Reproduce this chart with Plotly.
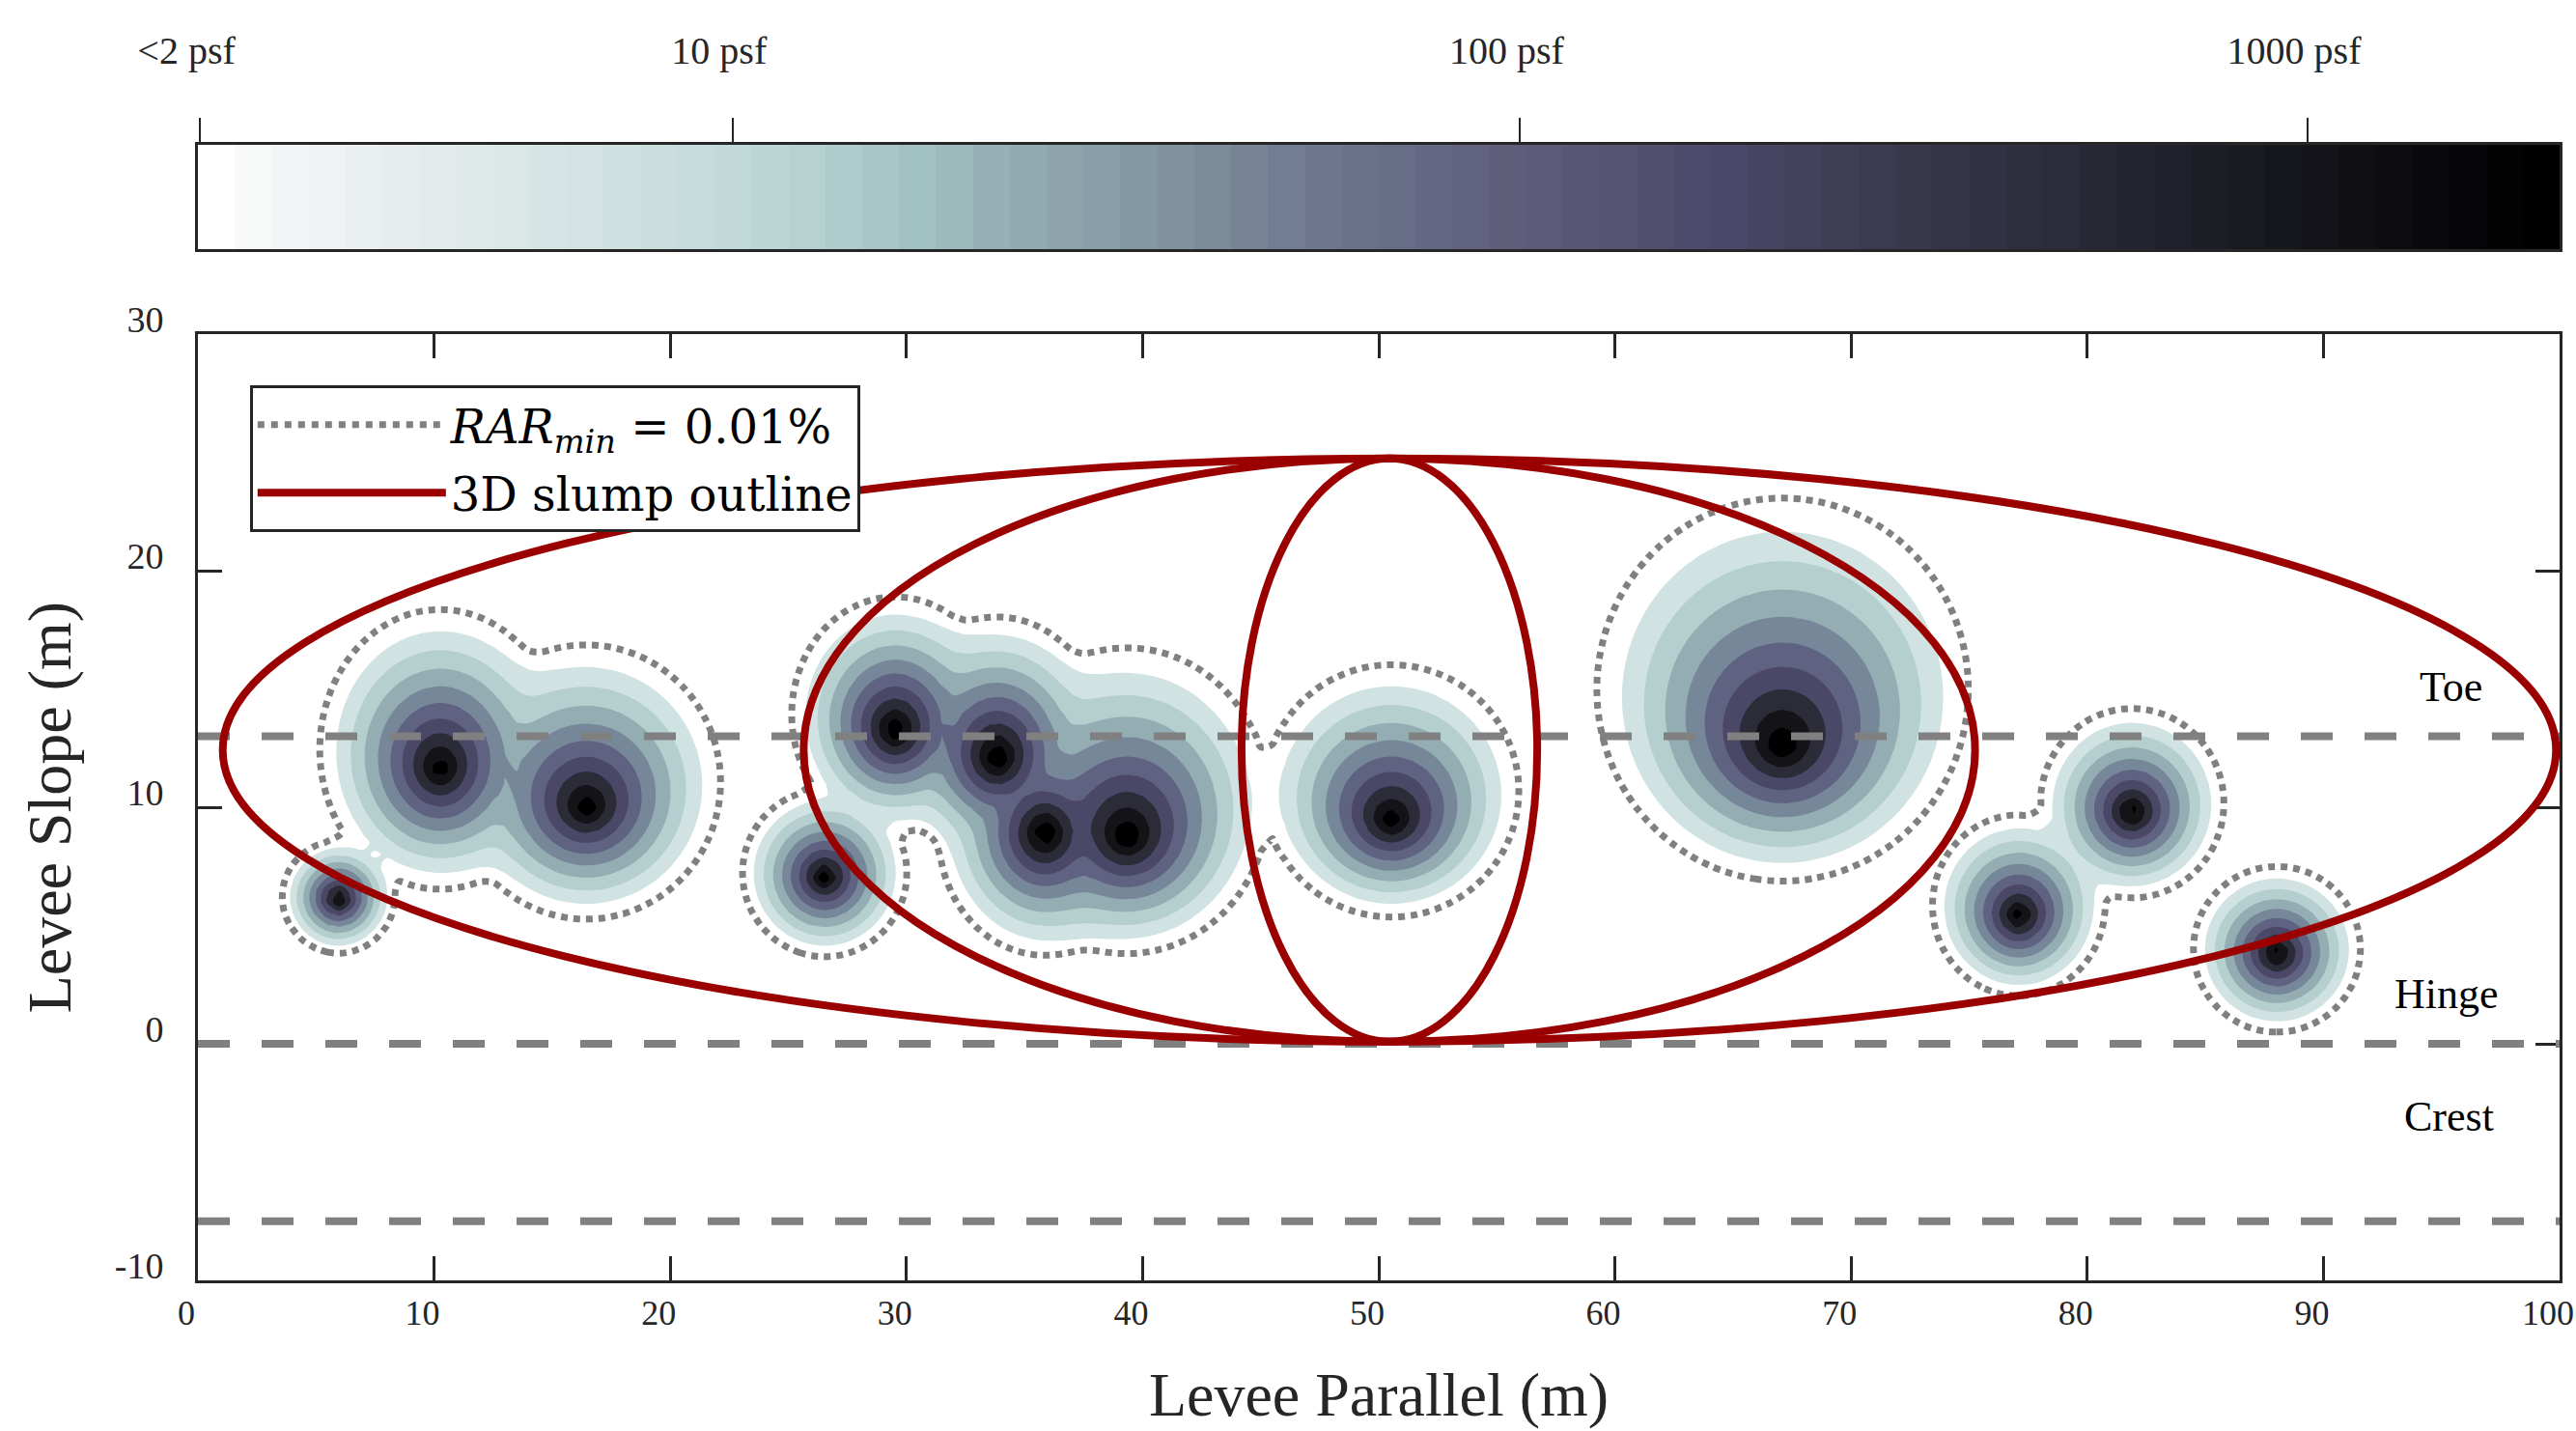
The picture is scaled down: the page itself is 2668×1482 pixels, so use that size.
import numpy as np
import plotly.graph_objects as go

# ---------------- colour bar (log10 of pressure, psf) ----------------
cbar_min_log = 0.321
cbar_max_log = 3.320
cbar_steps = 64
cbar_tick_vals = [0.3235, 1, 2, 3]
cbar_tick_text = ["<2 psf", "10 psf", "100 psf", "1000 psf"]

cmap_pos = [0.0, 0.03, 0.10, 0.20, 0.25, 0.30, 0.34, 0.42, 0.47, 0.55, 0.65, 0.72, 0.80, 0.88, 0.95, 1.0]
cmap_hex = ["#ffffff", "#f2f5f6", "#e2eaeb", "#c9dddd", "#b7d3d2", "#a3c2c2", "#94aeb4", "#7d8f9c",
            "#6f7890", "#5f5f7c", "#4a4868", "#3a394f", "#2a2a38", "#18181f", "#0a0a0d", "#000000"]

# ---------------- pressure blobs ----------------
blob_x = [5.95, 10.26, 16.45, 26.54, 29.53, 33.84, 35.86, 39.34, 50.54, 67.10, 77.10, 81.90, 88.03]
blob_y = [6.15, 11.64, 9.97, 7.05, 13.24, 12.06, 8.93, 8.72, 9.42, 12.55, 5.39, 9.77, 3.79]
blob_rx = [2.05, 4.4, 4.9, 3.0, 3.8, 3.9, 3.9, 5.2, 4.65, 6.8, 3.15, 3.35, 3.05]
blob_ry = [2.05, 5.1, 5.0, 3.05, 4.3, 4.5, 4.4, 5.6, 4.6, 7.0, 3.3, 3.45, 3.02]
blob_shift = [0.05, 0.7, 0.95, 0.15, 0.6, 0.7, -0.1, 1.35, 1.1, 2.1, 0.4, 0.35, 0.18]
blob_peak = [3.8, 3.8, 3.8, 3.8, 3.9, 3.95, 3.95, 3.9, 3.8, 3.85, 3.8, 3.8, 3.8]
edge_level = 2 / 3          # log10 level at the outer filled band edge
profile_exp = 0.75
fill_mix = 1.5              # power-mean exponent used to merge neighbouring blobs
rar_mix = 4.0
grid_step = 0.5

# contour bands
band_start = 2 / 3
band_size = 1 / 3
band_count = 9
band_colors = ["#d1e2e2", "#b5cfcf", "#94adb3", "#77879a", "#5f6280",
               "#4a4866", "#2c2b38", "#131318", "#000000"]
rar_level = 0.30           # RAR_min = 0.01 % outline

# ---------------- zones & slump outlines ----------------
zone_lines_y = [13, 0, -7.5]
zone_names = ["Toe", "Hinge", "Crest"]
zone_label_x = [95.4, 95.2, 95.3]
zone_label_y = [15.1, 2.1, -3.1]

slump_cx = 50.45
slump_cy = 12.42
slump_b = 12.33
slump_a = [49.4, 24.8, 6.26]

x_range = [0, 100]
y_range = [-10, 30]
x_ticks = list(range(0, 101, 10))
y_ticks = [-10, 0, 10, 20, 30]
y_tick_text = ["-10", "0", "10", "20", "30"]

FONT = "Liberation Serif"
LEG_FONT = "DejaVu Serif"
AX = "#262626"
GRAY = "#808080"
RED = "#9b0000"


def hex_to_rgb(h):
    h = h.lstrip("#")
    return np.array([int(h[i:i + 2], 16) for i in (0, 2, 4)], dtype=float)


def cmap(t):
    rgbs = np.array([hex_to_rgb(h) for h in cmap_hex])
    c = [np.interp(t, cmap_pos, rgbs[:, i]) for i in range(3)]
    return "rgb(%d,%d,%d)" % tuple(int(round(v)) for v in c)


# colour-bar steps
step_colors = [cmap(k / (cbar_steps - 1)) for k in range(cbar_steps)]
step_edges = np.linspace(cbar_min_log, cbar_max_log, cbar_steps + 1)
step_scale = [[k / (cbar_steps - 1), step_colors[k]] for k in range(cbar_steps)]

# field
gx = np.arange(x_range[0], x_range[1] + grid_step / 2, grid_step)
gy = np.arange(y_range[0], y_range[1] + grid_step / 2, grid_step)
X, Y = np.meshgrid(gx, gy)
logs = []
for cx, cy, rx, ry, sh, pk in zip(blob_x, blob_y, blob_rx, blob_ry, blob_shift, blob_peak):
    u = (X - cx) / rx
    v = (Y - cy) / ry
    h = sh / ry
    # normalised radius of rings whose centre moves up by `sh` per unit radius
    r = (-h * v + np.sqrt(h * h * v * v + (1 - h * h) * (u * u + v * v))) / (1 - h * h)
    r = np.maximum(r, 0)
    logs.append(pk - (pk - edge_level) * r ** profile_exp)
logs = np.array(logs)


def power_mean_log(lg, q):
    m = lg.max(axis=0)
    return m + np.log10(np.sum(10 ** (q * (lg - m)), axis=0)) / q


Z_fill = power_mean_log(logs, fill_mix)
Z_rar = power_mean_log(logs, rar_mix)

fill_scale = [[0, "rgba(255,255,255,0)"]] + [[(k + 1) / band_count, band_colors[k]] for k in range(band_count)]

fig = go.Figure()

fig.add_trace(go.Heatmap(
    x=step_edges, y=[0, 1], z=[list(range(cbar_steps))],
    colorscale=step_scale, zmin=0, zmax=cbar_steps - 1, showscale=False,
    xaxis="x2", yaxis="y2", hoverinfo="skip"))

fig.add_trace(go.Contour(
    x=gx, y=gy, z=Z_fill, autocontour=False,
    contours=dict(start=band_start, end=band_start + (band_count - 1) * band_size,
                  size=band_size, coloring="fill", showlines=False),
    line=dict(width=0), colorscale=fill_scale, showscale=False,
    hoverinfo="skip", showlegend=False))

fig.add_trace(go.Contour(
    x=gx, y=gy, z=Z_rar, autocontour=False,
    contours=dict(start=rar_level, end=rar_level, size=1, coloring="none"),
    line=dict(color=GRAY, width=7, dash="7px,6px"), showscale=False,
    hoverinfo="skip", showlegend=False))

# legend entries
fig.add_trace(go.Scatter(x=[None], y=[None], mode="lines", legendgroup="a",
                         line=dict(color=GRAY, width=7, dash="7px,7px"),
                         name="<i>RAR</i><sub><i>min</i></sub> = 0.01%"))
fig.add_trace(go.Scatter(x=[None], y=[None], mode="lines", legendgroup="b",
                         line=dict(color=RED, width=8),
                         name="3D slump outline"))

shapes = []
for yv in zone_lines_y:
    shapes.append(dict(type="line", xref="x", yref="y", x0=x_range[0], x1=x_range[1], y0=yv, y1=yv,
                       line=dict(color=GRAY, width=8, dash="33px,33px"), layer="above"))
for a in slump_a:
    shapes.append(dict(type="circle", xref="x", yref="y",
                       x0=slump_cx - a, x1=slump_cx + a, y0=slump_cy - slump_b, y1=slump_cy + slump_b,
                       line=dict(color=RED, width=8), layer="above"))

annotations = []
for name, xv, yv in zip(zone_names, zone_label_x, zone_label_y):
    annotations.append(dict(x=xv, y=yv, xref="x", yref="y", text=name, showarrow=False,
                            font=dict(family=FONT, size=44, color="#000000")))

tickfont = dict(family=FONT, size=38, color=AX)

fig.update_layout(
    width=2668, height=1482,
    margin=dict(l=205, r=17, t=100, b=156, autoexpand=False),
    paper_bgcolor="white", plot_bgcolor="white",
    shapes=shapes, annotations=annotations,
    showlegend=True,
    legend=dict(x=0.022, y=0.756, xanchor="left", yanchor="top",
                bgcolor="white", bordercolor=AX, borderwidth=3,
                font=dict(family=LEG_FONT, size=48, color="#000000"),
                itemwidth=195, tracegroupgap=5, traceorder="grouped"),
    xaxis=dict(domain=[0, 1], anchor="y", range=x_range, tickvals=x_ticks,
               ticks="inside", ticklen=25, tickwidth=3, tickcolor=AX,
               showline=True, linecolor=AX, linewidth=3, mirror="ticks",
               showgrid=False, zeroline=False, tickfont=dict(family=FONT, size=36, color=AX),
               ticklabelshift=-12, ticklabeloverflow="allow", automargin=False,
               title=dict(text="Levee Parallel (m)", font=dict(family=FONT, size=64, color=AX), standoff=42)),
    yaxis=dict(domain=[0, 0.7992], anchor="x", range=y_range, tickvals=y_ticks, ticktext=y_tick_text,
               ticks="inside", ticklen=25, tickwidth=3, tickcolor=AX,
               showline=True, linecolor=AX, linewidth=3, mirror="ticks",
               showgrid=False, zeroline=False, tickfont=tickfont, ticklabelshift=-15,
               ticklabelstandoff=25, ticklabeloverflow="allow", automargin=False,
               title=dict(text="Levee Slope (m)", font=dict(family=FONT, size=64, color=AX), standoff=25)),
    xaxis2=dict(domain=[0, 1], anchor="y2", range=[cbar_min_log, cbar_max_log], side="top",
                tickvals=cbar_tick_vals, ticktext=cbar_tick_text,
                ticks="outside", ticklen=25, tickwidth=2, tickcolor=AX,
                showline=True, linecolor=AX, linewidth=3, mirror=True,
                showgrid=False, zeroline=False, tickfont=dict(family=FONT, size=40, color=AX),
                ticklabelshift=-14, ticklabelstandoff=40, ticklabeloverflow="allow", automargin=False),
    yaxis2=dict(domain=[0.8710, 0.9592], anchor="x2", range=[0, 1], showticklabels=False,
                ticks="", showline=True, linecolor=AX, linewidth=3, mirror=True,
                showgrid=False, zeroline=False, automargin=False),
)

fig.write_html("out.html")
